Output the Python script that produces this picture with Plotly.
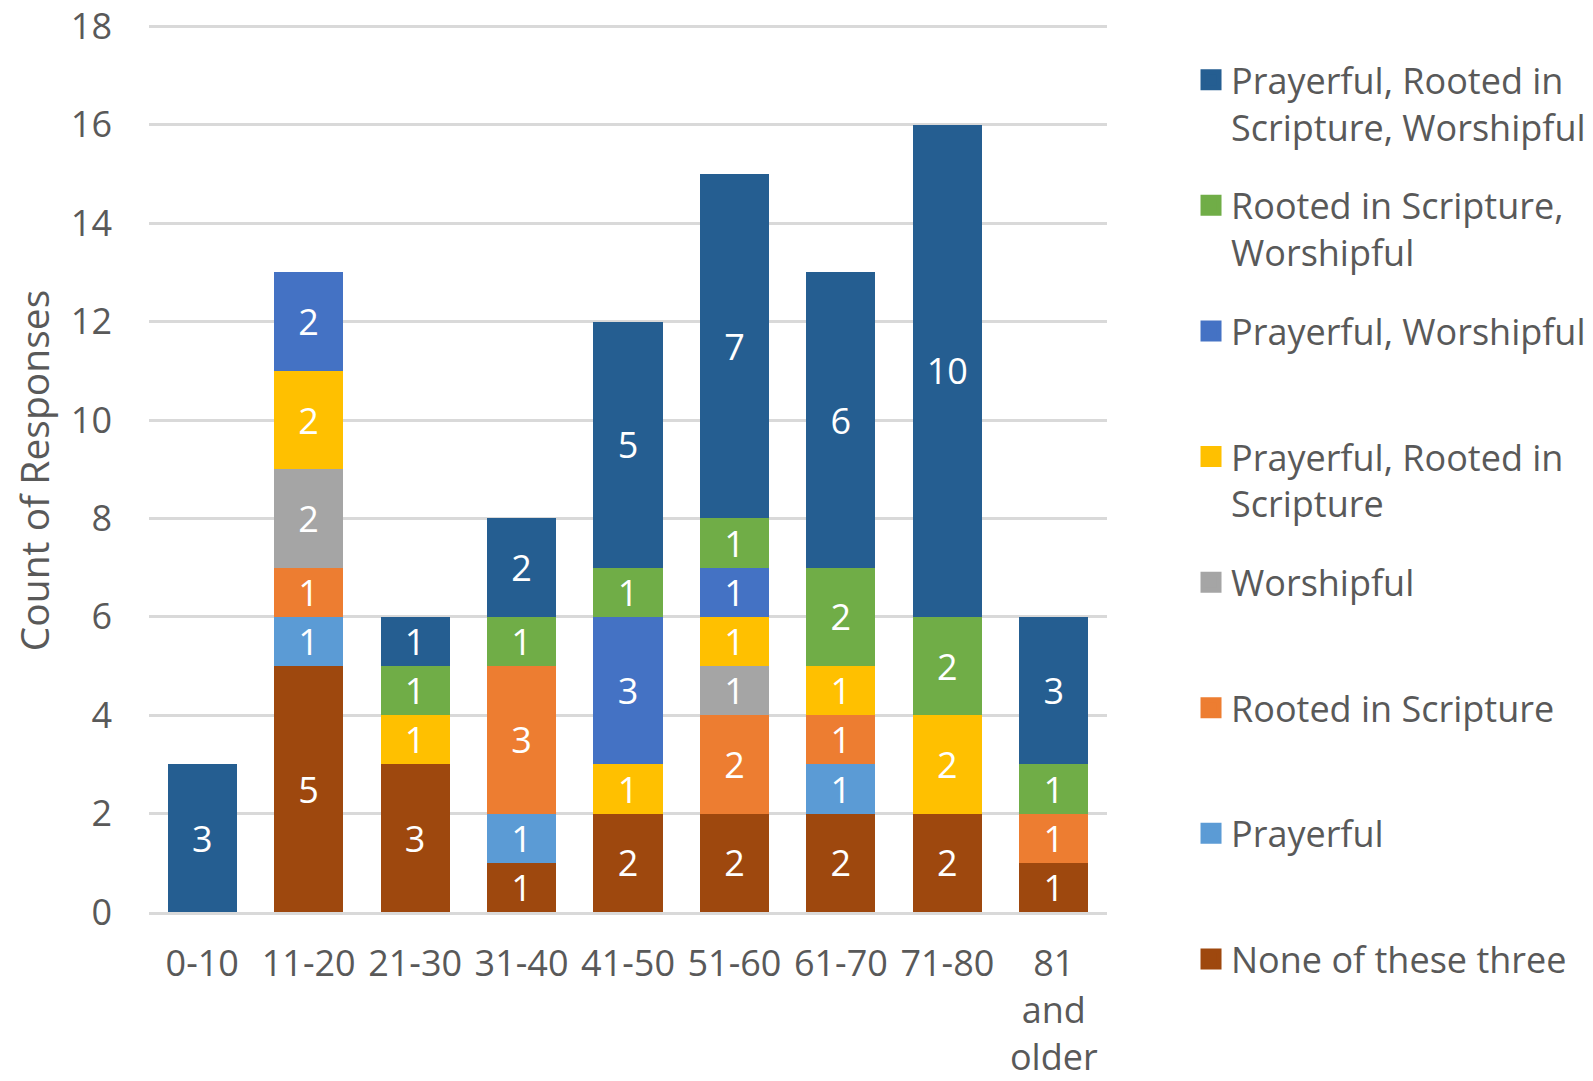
import plotly.graph_objects as go

categories = ["0-10", "11-20", "21-30", "31-40", "41-50", "51-60", "61-70", "71-80", "81<br>and<br>older"]

# Series, bottom of stack to top
series_names = [
    "None of these three",
    "Prayerful",
    "Rooted in Scripture",
    "Worshipful",
    "Prayerful, Rooted in Scripture",
    "Prayerful, Worshipful",
    "Rooted in Scripture, Worshipful",
    "Prayerful, Rooted in Scripture, Worshipful",
]
legend_labels = [
    "None of these three<br>\u00a0",
    "Prayerful<br>\u00a0",
    "Rooted in Scripture<br>\u00a0",
    "Worshipful<br>\u00a0",
    "Prayerful, Rooted in<br>Scripture",
    "Prayerful, Worshipful<br>\u00a0",
    "Rooted in Scripture,<br>Worshipful",
    "Prayerful, Rooted in<br>Scripture, Worshipful",
]
y_title = "Count of Responses"

none_vals       = [None, 5, 3, 1, 2, 2, 2, 2, 1]
prayerful       = [None, 1, None, 1, None, None, 1, None, None]
rooted          = [None, 1, None, 3, None, 2, 1, None, 1]
worshipful      = [None, 2, None, None, None, 1, None, None, None]
pray_rooted     = [None, 2, 1, None, 1, 1, 1, 2, None]
pray_worship    = [None, 2, None, None, 3, 1, None, None, None]
rooted_worship  = [None, None, 1, 1, 1, 1, 2, 2, 1]
all_three       = [3, None, 1, 2, 5, 7, 6, 10, 3]

values = [none_vals, prayerful, rooted, worshipful, pray_rooted, pray_worship, rooted_worship, all_three]
colors = ["#9E480E", "#5B9BD5", "#ED7D31", "#A5A5A5", "#FFC000", "#4472C4", "#70AD47", "#255E91"]

FONT = "Open Sans"
TXT = "#595959"
FS = 36

fig = go.Figure()
n = len(series_names)
for i, (name, lab, vals, col) in enumerate(zip(series_names, legend_labels, values, colors)):
    fig.add_trace(go.Bar(
        x=categories, y=vals, name=name,
        marker=dict(color=col, line=dict(width=0)),
        text=[("" if v is None else str(v)) for v in vals],
        textposition="inside", insidetextanchor="middle",
        textangle=0, constraintext="none",
        textfont=dict(color="white", size=FS, family=FONT),
        showlegend=False,
        hoverinfo="name+y",
    ))
    # legend entry with a larger square swatch
    fig.add_trace(go.Scatter(
        x=[None], y=[None], name=lab, mode="markers",
        marker=dict(symbol="square", size=16, color=col, line=dict(color=col, width=5)),
        legendgroup=f"g{i}", legendrank=n - i, showlegend=True,
        hoverinfo="skip",
    ))

fig.update_layout(
    barmode="stack",
    bargap=0.35,
    width=1593, height=1081,
    margin=dict(l=149, r=486, t=25, b=169, autoexpand=False),
    paper_bgcolor="white", plot_bgcolor="white",
    font=dict(family=FONT, color=TXT, size=FS),
    showlegend=True,
    legend=dict(
        x=1.0877, xanchor="left", y=0.972, yanchor="top",
        traceorder="grouped", tracegroupgap=29,
        valign="top", itemsizing="trace",
        font=dict(size=FS, color=TXT, family=FONT),
        bgcolor="rgba(0,0,0,0)",
        maxheight=1081,
    ),
    yaxis=dict(
        range=[0, 18.03], dtick=2, tick0=0,
        showgrid=True, gridcolor="#D9D9D9", gridwidth=2.5,
        zeroline=False, showline=False,
        ticks="", ticklabelstandoff=36, ticklabeloverflow="allow",
        tickfont=dict(size=FS, color=TXT, family=FONT),
    ),
    xaxis=dict(
        showgrid=False, zeroline=False,
        showline=True, linecolor="#D9D9D9", linewidth=2.5,
        ticks="", ticklabelstandoff=18, ticklabeloverflow="allow",
        tickfont=dict(size=FS, color=TXT, family=FONT),
    ),
    annotations=[dict(
        text=y_title, textangle=-90, showarrow=False,
        xref="paper", yref="paper", x=-0.121, y=0.497,
        xanchor="center", yanchor="middle",
        font=dict(size=39, color=TXT, family=FONT),
    )],
)

fig.write_html(
    "out.html",
    config={"displayModeBar": False},
    post_script="document.body.style.margin='0';document.body.style.overflow='hidden';",
)
